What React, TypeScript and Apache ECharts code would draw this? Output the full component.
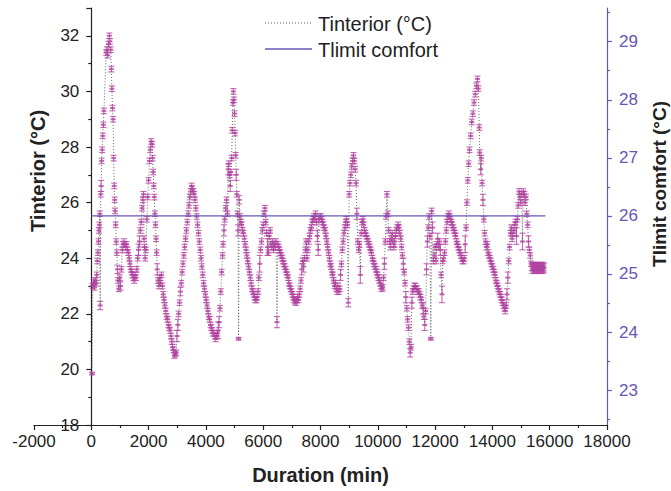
import React, { useEffect, useRef } from 'react';
import * as echarts from 'echarts';

// readings: [minutes, Tinterior (°C), error (±°C)]
const part1 = [
  [30, 19.85, 0.05], [50, 23.0, 0.1], [80, 23.15, 0.1], [110, 22.95, 0.1], [140, 23.2, 0.1], [170, 23.1, 0.1],
  [190, 23.4, 0.1], [210, 23.9, 0.1], [230, 24.2, 0.1], [250, 24.6, 0.1], [265, 25.0, 0.1], [280, 25.2, 0.1],
  [295, 25.6, 0.1], [310, 22.3, 0.15], [330, 26.3, 0.1], [345, 26.6, 0.2], [360, 27.5, 0.1], [380, 27.9, 0.1],
  [400, 28.4, 0.1], [420, 28.8, 0.1], [440, 29.3, 0.1], [520, 31.4, 0.1], [545, 31.5, 0.1], [570, 31.3, 0.1],
  [600, 31.7, 0.1], [630, 32.0, 0.1], [650, 31.8, 0.1], [680, 31.5, 0.1], [700, 30.8, 0.1], [720, 30.1, 0.1],
  [740, 29.4, 0.1], [760, 29.0, 0.1], [780, 27.6, 0.1], [800, 26.6, 0.1], [815, 26.1, 0.1], [830, 25.7, 0.1],
  [850, 25.2, 0.1], [870, 24.6, 0.1], [890, 24.2, 0.1], [910, 23.6, 0.15], [930, 23.2, 0.1], [960, 22.9, 0.1],
  [990, 23.3, 0.1], [1020, 23.0, 0.15], [1050, 23.6, 0.1], [1080, 24.3, 0.1], [1110, 24.5, 0.1], [1140, 24.6, 0.1],
  [1170, 24.5, 0.1], [1200, 24.4, 0.1], [1230, 24.5, 0.1], [1260, 24.3, 0.1], [1290, 24.2, 0.1], [1320, 24.0, 0.1],
  [1350, 23.8, 0.1], [1380, 23.6, 0.1], [1410, 23.5, 0.1], [1440, 23.4, 0.1], [1470, 23.3, 0.1], [1500, 23.2, 0.1],
  [1530, 23.4, 0.1], [1560, 23.3, 0.1], [1590, 23.6, 0.1], [1620, 24.0, 0.1], [1650, 24.3, 0.2], [1680, 24.6, 0.2],
  [1710, 25.0, 0.1], [1740, 25.3, 0.1], [1770, 25.8, 0.1], [1800, 26.1, 0.1], [1820, 26.3, 0.1], [1840, 24.7, 0.1],
  [1860, 24.4, 0.1], [1880, 24.0, 0.1], [1910, 24.3, 0.1], [1940, 25.4, 0.1], [1970, 26.2, 0.1], [2000, 26.8, 0.1],
  [2030, 27.5, 0.1], [2060, 27.9, 0.1], [2090, 28.2, 0.1], [2120, 28.1, 0.1], [2140, 27.6, 0.1], [2160, 27.1, 0.1],
  [2180, 26.6, 0.1], [2200, 26.2, 0.1], [2220, 25.6, 0.1], [2240, 25.2, 0.1], [2260, 24.7, 0.1], [2280, 24.2, 0.1],
  [2300, 23.6, 0.2], [2330, 23.2, 0.1], [2360, 23.0, 0.1], [2390, 23.3, 0.1], [2420, 23.1, 0.1], [2450, 23.4, 0.1],
  [2480, 23.0, 0.1], [2510, 22.7, 0.1], [2540, 22.5, 0.1], [2570, 22.3, 0.1], [2600, 22.1, 0.1], [2630, 21.9, 0.1],
  [2660, 21.8, 0.1], [2690, 21.6, 0.1], [2720, 21.5, 0.1], [2750, 21.4, 0.1], [2780, 21.2, 0.1], [2810, 21.0, 0.1],
  [2840, 20.8, 0.1], [2870, 20.7, 0.1], [2900, 20.5, 0.1], [2930, 20.55, 0.1], [2960, 20.6, 0.1], [2990, 21.2, 0.2],
];

const part2 = [
  [3020, 21.6, 0.2], [3050, 22.0, 0.1], [3080, 22.4, 0.1], [3110, 22.8, 0.15], [3140, 23.1, 0.1], [3170, 23.5, 0.1],
  [3200, 23.8, 0.1], [3230, 24.1, 0.1], [3260, 24.4, 0.1], [3290, 24.7, 0.1], [3320, 25.0, 0.1], [3350, 25.3, 0.1],
  [3380, 25.6, 0.1], [3410, 25.9, 0.1], [3440, 26.2, 0.1], [3470, 26.4, 0.1], [3500, 26.6, 0.1], [3530, 26.5, 0.1],
  [3560, 26.4, 0.1], [3590, 26.3, 0.1], [3620, 26.1, 0.1], [3650, 25.8, 0.1], [3680, 25.5, 0.1], [3710, 25.2, 0.1],
  [3740, 24.9, 0.1], [3770, 24.6, 0.1], [3800, 24.3, 0.1], [3830, 24.0, 0.1], [3860, 23.7, 0.1], [3890, 23.4, 0.1],
  [3920, 23.1, 0.1], [3950, 22.9, 0.1], [3980, 22.7, 0.1], [4010, 22.5, 0.1], [4040, 22.3, 0.1], [4070, 22.1, 0.1],
  [4100, 21.9, 0.1], [4130, 21.8, 0.1], [4160, 21.6, 0.1], [4190, 21.5, 0.1], [4220, 21.4, 0.1], [4250, 21.3, 0.1],
  [4280, 21.3, 0.1], [4310, 21.2, 0.1], [4340, 21.1, 0.1], [4370, 21.2, 0.1], [4400, 21.3, 0.1], [4430, 21.4, 0.3],
  [4460, 21.7, 0.2], [4490, 22.2, 0.1], [4520, 22.8, 0.1], [4550, 23.5, 0.1], [4580, 24.1, 0.1], [4600, 24.5, 0.1],
  [4630, 25.0, 0.2], [4660, 25.4, 0.1], [4690, 25.8, 0.1], [4720, 26.1, 0.1], [4750, 25.6, 0.1], [4780, 27.2, 0.2],
  [4800, 27.4, 0.1], [4830, 27.0, 0.1], [4850, 26.6, 0.2], [4870, 27.1, 0.1], [4900, 27.6, 0.1], [4920, 28.6, 0.1],
  [4940, 29.6, 0.1], [4960, 30.0, 0.1], [4980, 29.7, 0.1], [5000, 29.2, 0.1], [5020, 28.5, 0.1], [5040, 27.7, 0.1],
  [5060, 27.0, 0.2], [5080, 26.3, 0.1], [5100, 25.6, 0.1], [5120, 25.0, 0.2], [5140, 21.1, 0.05], [5160, 26.1, 0.15],
  [5190, 25.5, 0.1], [5220, 25.3, 0.1], [5250, 25.2, 0.1], [5280, 25.0, 0.1], [5310, 24.9, 0.1], [5340, 24.7, 0.1],
  [5370, 24.5, 0.1], [5400, 24.3, 0.1], [5430, 24.1, 0.1], [5460, 23.9, 0.1], [5490, 23.7, 0.1], [5520, 23.5, 0.1],
  [5550, 23.3, 0.1], [5580, 23.1, 0.1], [5610, 22.9, 0.1], [5640, 22.8, 0.1], [5670, 22.7, 0.1], [5700, 22.6, 0.1],
  [5730, 22.5, 0.1], [5760, 22.5, 0.1], [5790, 22.6, 0.1], [5820, 22.8, 0.1], [5850, 23.3, 0.1], [5880, 23.8, 0.3],
  [5910, 24.3, 0.1], [5940, 24.6, 0.1], [5970, 25.0, 0.1], [6000, 25.2, 0.1], [6030, 25.6, 0.1], [6060, 25.8, 0.1],
];

const part3 = [
  [6090, 25.3, 0.1], [6120, 24.9, 0.1], [6150, 24.4, 0.3], [6180, 24.2, 0.1], [6210, 24.8, 0.1], [6240, 25.0, 0.1],
  [6270, 24.5, 0.1], [6300, 24.4, 0.1], [6330, 24.6, 0.1], [6360, 24.3, 0.1], [6390, 24.5, 0.1], [6420, 24.4, 0.1],
  [6450, 24.6, 0.1], [6480, 21.7, 0.2], [6510, 24.5, 0.1], [6540, 24.4, 0.1], [6570, 24.3, 0.1], [6600, 24.2, 0.1],
  [6630, 24.1, 0.1], [6660, 24.0, 0.1], [6690, 23.9, 0.1], [6720, 23.8, 0.1], [6750, 23.7, 0.1], [6780, 23.6, 0.1],
  [6810, 23.5, 0.1], [6840, 23.4, 0.1], [6870, 23.3, 0.1], [6900, 23.1, 0.1], [6930, 23.0, 0.1], [6960, 22.9, 0.1],
  [6990, 22.8, 0.1], [7020, 22.7, 0.1], [7050, 22.6, 0.1], [7080, 22.5, 0.1], [7110, 22.45, 0.1], [7140, 22.4, 0.1],
  [7170, 22.5, 0.1], [7200, 22.6, 0.1], [7230, 22.5, 0.1], [7260, 22.7, 0.1], [7290, 22.9, 0.1], [7320, 23.2, 0.1],
  [7350, 23.6, 0.2], [7380, 23.9, 0.1], [7410, 23.7, 0.2], [7440, 24.0, 0.1], [7470, 24.3, 0.1], [7500, 24.6, 0.1],
  [7530, 24.0, 0.1], [7560, 24.3, 0.1], [7590, 24.6, 0.1], [7620, 24.8, 0.1], [7650, 25.0, 0.1], [7680, 25.1, 0.1],
  [7710, 25.3, 0.1], [7740, 25.4, 0.1], [7770, 25.5, 0.1], [7800, 25.4, 0.1], [7830, 25.6, 0.1], [7860, 25.3, 0.1],
  [7890, 24.8, 0.2], [7920, 24.3, 0.2], [7950, 25.4, 0.1], [7980, 25.5, 0.1], [8010, 25.5, 0.1], [8040, 25.4, 0.1],
  [8070, 25.3, 0.1], [8100, 25.2, 0.1], [8130, 25.1, 0.1], [8160, 25.0, 0.1], [8190, 24.8, 0.1], [8220, 24.6, 0.1],
  [8250, 24.4, 0.1], [8280, 24.2, 0.1], [8310, 24.0, 0.1], [8340, 23.8, 0.1], [8370, 23.7, 0.1], [8400, 23.5, 0.1],
  [8430, 23.4, 0.1], [8460, 23.2, 0.1], [8490, 23.0, 0.1], [8520, 23.1, 0.1], [8550, 22.9, 0.1], [8580, 22.8, 0.1],
  [8610, 23.0, 0.1], [8640, 22.8, 0.1], [8670, 22.9, 0.1], [8700, 23.4, 0.2], [8730, 23.8, 0.1], [8760, 24.3, 0.1],
  [8790, 24.6, 0.1], [8820, 24.9, 0.1], [8850, 25.1, 0.1], [8880, 25.3, 0.1], [8910, 25.4, 0.1], [8940, 25.2, 0.1],
  [8970, 22.4, 0.15], [9000, 26.3, 0.1], [9030, 26.7, 0.1], [9060, 27.0, 0.1], [9090, 27.3, 0.1], [9120, 27.5, 0.1],
  [9150, 27.7, 0.1], [9180, 27.5, 0.1], [9210, 27.2, 0.1], [9240, 26.7, 0.1], [9270, 25.6, 0.2], [9300, 24.6, 0.1],
];

const part4 = [
  [9330, 24.3, 0.1], [9360, 24.5, 0.1], [9390, 23.4, 0.3], [9420, 24.9, 0.1], [9450, 25.3, 0.1], [9480, 25.4, 0.1],
  [9510, 25.2, 0.1], [9540, 25.0, 0.1], [9570, 24.9, 0.1], [9600, 24.8, 0.1], [9630, 24.7, 0.1], [9660, 24.6, 0.1],
  [9690, 24.5, 0.1], [9720, 24.4, 0.1], [9750, 24.3, 0.1], [9780, 24.2, 0.1], [9810, 24.0, 0.1], [9840, 23.9, 0.1],
  [9870, 23.8, 0.1], [9900, 23.7, 0.1], [9930, 23.6, 0.1], [9960, 23.5, 0.1], [9990, 23.4, 0.1], [10020, 23.3, 0.1],
  [10050, 23.2, 0.1], [10080, 23.1, 0.1], [10110, 23.0, 0.1], [10140, 22.9, 0.1], [10170, 22.95, 0.1], [10200, 23.3, 0.1],
  [10230, 23.8, 0.2], [10260, 24.6, 0.1], [10290, 25.5, 0.1], [10320, 26.3, 0.1], [10350, 25.6, 0.1], [10380, 25.0, 0.1],
  [10410, 24.6, 0.1], [10440, 24.4, 0.1], [10470, 24.7, 0.1], [10500, 24.9, 0.1], [10530, 24.6, 0.1], [10560, 24.4, 0.1],
  [10590, 24.6, 0.2], [10620, 24.8, 0.1], [10650, 25.0, 0.1], [10680, 25.1, 0.1], [10710, 25.2, 0.1], [10740, 25.1, 0.1],
  [10770, 24.9, 0.1], [10800, 24.7, 0.1], [10830, 24.4, 0.1], [10860, 24.1, 0.1], [10890, 23.8, 0.2], [10920, 23.5, 0.1],
  [10950, 23.1, 0.1], [10980, 22.6, 0.2], [11010, 22.2, 0.1], [11040, 21.8, 0.1], [11070, 21.5, 0.1], [11100, 21.0, 0.1],
  [11130, 20.6, 0.15], [11160, 20.8, 0.1], [11190, 22.4, 0.2], [11220, 22.8, 0.1], [11250, 22.9, 0.1], [11280, 23.0, 0.1],
  [11310, 23.0, 0.1], [11340, 22.9, 0.1], [11370, 22.9, 0.1], [11400, 22.8, 0.1], [11430, 22.8, 0.1], [11460, 22.7, 0.1],
  [11490, 22.6, 0.1], [11520, 22.5, 0.1], [11550, 22.3, 0.1], [11580, 22.2, 0.2], [11610, 21.9, 0.1], [11640, 21.6, 0.2],
  [11670, 22.1, 0.1], [11700, 23.6, 0.2], [11730, 24.6, 0.2], [11760, 25.1, 0.1], [11790, 25.5, 0.1], [11820, 24.8, 0.1],
  [11850, 21.1, 0.05], [11880, 25.7, 0.1], [11910, 25.1, 0.2], [11940, 23.9, 0.1], [11970, 24.1, 0.1], [12000, 24.4, 0.1],
  [12030, 23.9, 0.1], [12060, 24.5, 0.1], [12090, 24.7, 0.2], [12120, 24.4, 0.1], [12150, 24.6, 0.1], [12180, 24.3, 0.2],
  [12210, 23.4, 0.1], [12240, 22.7, 0.3], [12270, 23.9, 0.1], [12300, 24.0, 0.1], [12330, 24.2, 0.1], [12360, 24.6, 0.1],
];

const part5 = [
  [12390, 25.0, 0.1], [12420, 25.3, 0.1], [12450, 25.5, 0.1], [12480, 25.6, 0.1], [12510, 25.5, 0.1], [12540, 25.4, 0.1],
  [12570, 25.3, 0.1], [12600, 25.2, 0.1], [12630, 25.1, 0.1], [12660, 25.0, 0.1], [12690, 24.9, 0.1], [12720, 24.8, 0.1],
  [12750, 24.6, 0.1], [12780, 24.5, 0.1], [12810, 24.4, 0.1], [12840, 24.3, 0.1], [12870, 24.2, 0.1], [12900, 24.1, 0.1],
  [12930, 24.0, 0.1], [12960, 23.9, 0.1], [12990, 23.9, 0.1], [13020, 24.0, 0.1], [13050, 24.5, 0.3], [13080, 25.1, 0.1],
  [13110, 26.0, 0.1], [13140, 26.8, 0.1], [13170, 27.4, 0.1], [13200, 27.9, 0.1], [13240, 28.4, 0.1], [13280, 28.9, 0.1],
  [13320, 29.2, 0.1], [13360, 29.6, 0.1], [13400, 29.9, 0.1], [13440, 30.2, 0.1], [13480, 30.45, 0.1], [13510, 30.1, 0.1],
  [13540, 28.7, 0.1], [13560, 27.8, 0.1], [13590, 27.2, 0.2], [13610, 27.6, 0.1], [13640, 26.7, 0.1], [13670, 26.1, 0.2],
  [13700, 25.4, 0.1], [13730, 24.9, 0.1], [13760, 24.6, 0.1], [13790, 24.4, 0.1], [13820, 24.5, 0.1], [13850, 24.2, 0.1],
  [13880, 24.1, 0.1], [13910, 24.0, 0.1], [13940, 23.9, 0.1], [13970, 23.8, 0.1], [14000, 23.7, 0.1], [14030, 23.6, 0.1],
  [14060, 23.5, 0.1], [14090, 23.4, 0.1], [14120, 23.2, 0.1], [14150, 23.1, 0.1], [14180, 23.0, 0.1], [14210, 22.9, 0.1],
  [14240, 22.8, 0.1], [14270, 22.7, 0.1], [14300, 22.6, 0.1], [14330, 22.5, 0.1], [14360, 22.4, 0.1], [14390, 22.3, 0.1],
  [14420, 22.2, 0.1], [14450, 22.1, 0.1], [14480, 22.3, 0.1], [14510, 22.7, 0.2], [14540, 23.3, 0.2], [14570, 23.9, 0.1],
  [14600, 24.4, 0.1], [14630, 24.9, 0.1], [14660, 25.1, 0.1], [14690, 24.7, 0.1], [14720, 24.9, 0.1], [14750, 25.0, 0.1],
  [14780, 25.2, 0.1], [14810, 25.3, 0.1], [14840, 24.8, 0.3], [14870, 25.4, 0.1], [14900, 25.9, 0.1], [14930, 26.4, 0.1],
  [14960, 26.2, 0.1], [14990, 26.0, 0.1], [15020, 26.3, 0.1], [15050, 24.6, 0.3], [15080, 26.4, 0.1], [15110, 26.3, 0.1],
  [15140, 26.0, 0.1], [15170, 26.2, 0.1], [15200, 25.6, 0.1], [15230, 25.2, 0.1], [15260, 24.6, 0.2], [15290, 24.3, 0.1],
  [15320, 24.1, 0.1], [15350, 23.8, 0.1], [15380, 23.7, 0.15], [15400, 23.6, 0.15], [15420, 23.7, 0.15], [15440, 23.65, 0.15],
  [15460, 23.6, 0.15], [15480, 23.7, 0.15], [15500, 23.65, 0.15], [15520, 23.6, 0.15], [15540, 23.7, 0.15], [15560, 23.65, 0.15],
  [15580, 23.6, 0.15], [15600, 23.7, 0.15], [15620, 23.65, 0.15], [15640, 23.6, 0.15], [15660, 23.7, 0.15], [15680, 23.65, 0.15],
  [15700, 23.6, 0.15], [15720, 23.7, 0.15], [15740, 23.65, 0.15], [15760, 23.6, 0.15], [15780, 23.7, 0.15], [15800, 23.65, 0.15],
];

const limitMinutes = [0, 15850];
const limitComfort = [26, 26];

const leftTickLabels = [18, 20, 22, 24, 26, 28, 30, 32];
const rightTickLabels = [23, 24, 25, 26, 27, 28, 29];
const rightMinorTicks = [22.5, 23.5, 24.5, 25.5, 26.5, 27.5, 28.5, 29.5];

const X_MIN = -2000;
const X_MAX = 18000;

const FONT = 'Liberation Sans, Arial, Helvetica, sans-serif';
const MAG = 'rgba(178, 68, 160, 0.8)';
const PURPLE = '#6a56b4';
const INK = '#222222';

const GRID_LEFT = 34;
const GRID_RIGHT = 64;
const CHART_W = 671;

export default function App() {
  const ref = useRef<HTMLDivElement>(null);

  useEffect(() => {
    if (!ref.current) return;
    const chart = echarts.init(ref.current, null, { renderer: 'svg' });
    const readings = [...part1, ...part2, ...part3, ...part4, ...part5];
    const linePts = readings.map((r) => [r[0], r[1]]);
    const limitPts = limitMinutes.map((m, i) => [m, limitComfort[i]]);

    // left y axis sits at x = 0 of the duration axis
    const plotW = CHART_W - GRID_LEFT - GRID_RIGHT;
    const zeroOffset = -((0 - X_MIN) / (X_MAX - X_MIN)) * plotW;

    const option: any = {
      animation: false,
      backgroundColor: '#ffffff',
      textStyle: { fontFamily: FONT },
      grid: { left: GRID_LEFT, right: GRID_RIGHT, top: 8, bottom: 66, containLabel: false },
      xAxis: {
        type: 'value',
        min: X_MIN,
        max: X_MAX,
        interval: 2000,
        name: 'Duration (min)',
        nameLocation: 'middle',
        nameGap: 40,
        nameTextStyle: { fontSize: 20, fontWeight: 'bold', color: INK, fontFamily: FONT },
        axisLine: { onZero: false, lineStyle: { color: INK, width: 1.2 } },
        axisTick: { show: true, inside: false, length: 5, lineStyle: { color: INK, width: 1.2 } },
        minorTick: { show: true, splitNumber: 2, length: 3, lineStyle: { color: INK, width: 1.2 } },
        axisLabel: {
          fontSize: 17,
          color: INK,
          margin: 8,
          fontFamily: FONT,
          hideOverlap: false,
          formatter: (v: number) => String(v),
        },
        splitLine: { show: false },
      },
      yAxis: [
        {
          type: 'value',
          position: 'left',
          offset: zeroOffset,
          min: 18,
          max: 33,
          interval: 2,
          axisLine: { show: true, onZero: false, lineStyle: { color: INK, width: 1.2 } },
          axisTick: { show: true, inside: false, length: 5, lineStyle: { color: INK, width: 1.2 } },
          minorTick: { show: true, splitNumber: 2, length: 3, lineStyle: { color: INK, width: 1.2 } },
          axisLabel: {
            fontSize: 17,
            color: INK,
            margin: 12,
            fontFamily: FONT,
            hideOverlap: false,
            customValues: leftTickLabels,
            formatter: (v: number) => String(v),
          },
          splitLine: { show: false },
        },
        {
          type: 'value',
          position: 'right',
          min: 22.4,
          max: 29.58,
          axisLine: { show: true, onZero: false, lineStyle: { color: PURPLE, width: 1.2 } },
          axisTick: { show: true, inside: false, length: 5, customValues: rightTickLabels, lineStyle: { color: PURPLE, width: 1.2 } },
          axisLabel: { fontSize: 17, color: PURPLE, margin: 12, fontFamily: FONT, customValues: rightTickLabels },
          splitLine: { show: false },
        },
        {
          type: 'value',
          position: 'right',
          min: 22.4,
          max: 29.58,
          axisLine: { show: false, onZero: false },
          axisTick: { show: true, inside: false, length: 3, customValues: rightMinorTicks, lineStyle: { color: PURPLE, width: 1.2 } },
          axisLabel: { show: false },
          splitLine: { show: false },
        },
      ],
      graphic: [
        {
          type: 'line',
          shape: { x1: 265, y1: 23, x2: 312, y2: 23 },
          style: { stroke: '#555555', lineWidth: 1, lineDash: [1, 2] },
        },
        {
          type: 'text',
          x: 318,
          y: 24,
          style: { text: 'Tinterior (°C)', fontSize: 20, fontFamily: FONT, fill: INK, align: 'left', verticalAlign: 'middle' },
        },
        {
          type: 'line',
          shape: { x1: 265, y1: 49, x2: 312, y2: 49 },
          style: { stroke: PURPLE, lineWidth: 1.5 },
        },
        {
          type: 'text',
          x: 318,
          y: 50,
          style: { text: 'Tlimit comfort', fontSize: 20, fontFamily: FONT, fill: INK, align: 'left', verticalAlign: 'middle' },
        },
        {
          type: 'text',
          x: 38,
          y: 171,
          rotation: Math.PI / 2,
          style: {
            text: 'Tinterior (°C)',
            fontSize: 20,
            fontWeight: 'bold',
            fontFamily: FONT,
            fill: INK,
            align: 'center',
            verticalAlign: 'middle',
          },
        },
        {
          type: 'text',
          x: 659,
          y: 184,
          rotation: Math.PI / 2,
          style: {
            text: 'Tlimit comfort (°C)',
            fontSize: 19,
            fontWeight: 'bold',
            fontFamily: FONT,
            fill: INK,
            align: 'center',
            verticalAlign: 'middle',
          },
        },
      ],
      series: [
        {
          name: 'Tinterior (°C)',
          type: 'line',
          yAxisIndex: 0,
          data: linePts,
          symbol: 'none',
          z: 1,
          lineStyle: { color: '#555555', width: 0.9, type: [1, 2] },
          itemStyle: { color: '#555555' },
        },
        {
          name: 'Tinterior error',
          type: 'custom',
          yAxisIndex: 0,
          data: readings,
          encode: { x: 0, y: 1 },
          z: 2,
          renderItem: (params: any, api: any) => {
            const t = api.value(0);
            const v = api.value(1);
            const e = api.value(2);
            const top = api.coord([t, v + e]);
            const bot = api.coord([t, v - e]);
            const mid = api.coord([t, v]);
            const hw = 3;
            const st = { stroke: MAG, lineWidth: 1.1 };
            return {
              type: 'group',
              children: [
                { type: 'line', shape: { x1: top[0], y1: top[1], x2: bot[0], y2: bot[1] }, style: st },
                { type: 'line', shape: { x1: top[0] - hw, y1: top[1], x2: top[0] + hw, y2: top[1] }, style: st },
                { type: 'line', shape: { x1: bot[0] - hw, y1: bot[1], x2: bot[0] + hw, y2: bot[1] }, style: st },
                { type: 'line', shape: { x1: mid[0] - 2.5, y1: mid[1], x2: mid[0] + 2.5, y2: mid[1] }, style: { stroke: MAG, lineWidth: 2 } },
              ],
            };
          },
        },
        {
          name: 'Tlimit comfort',
          type: 'line',
          yAxisIndex: 1,
          data: limitPts,
          symbol: 'none',
          z: 3,
          lineStyle: { color: PURPLE, width: 1.3 },
          itemStyle: { color: PURPLE },
        },
      ],
    };

    chart.setOption(option);
    return () => {
      chart.dispose();
    };
  }, []);

  return <div ref={ref} style={{ width: 671, height: 491, position: 'absolute', left: 0, top: 0 }} />;
}
